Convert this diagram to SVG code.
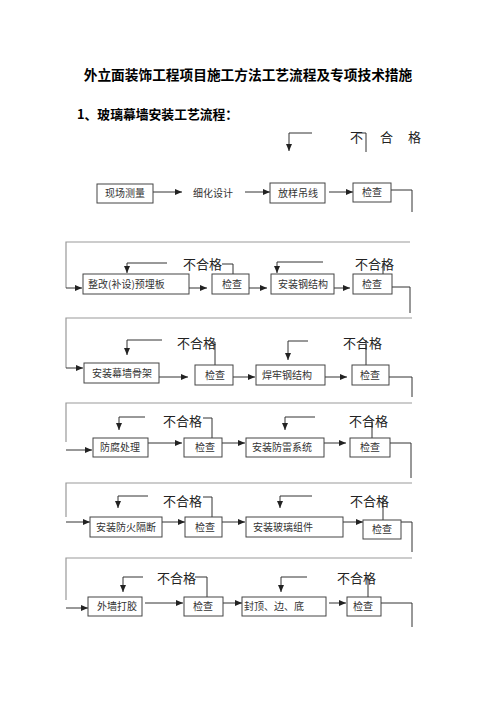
<svg xmlns="http://www.w3.org/2000/svg" width="496" height="702" viewBox="0 0 496 702">
<style>
.bg{fill:#fff}
.box{fill:#fff;stroke:#444;stroke-width:1}
.ln{fill:none;stroke:#333;stroke-width:1}
.ret{fill:none;stroke:#999;stroke-width:1.2}
.t{font-family:"Noto Sans CJK SC","Noto Sans CJK JP",sans-serif;font-size:10px;fill:#333}
.ng{font-family:"Noto Sans CJK SC","Noto Sans CJK JP",sans-serif;font-size:13px;fill:#222}
.h{font-family:"Noto Sans CJK SC","Noto Sans CJK JP",sans-serif;font-weight:bold;fill:#000}
</style>
<defs>
<marker id="ah" markerWidth="7" markerHeight="6" refX="7" refY="3" orient="auto" markerUnits="userSpaceOnUse"><path d="M0,0 L7,3 L0,6 z" fill="#222"/></marker>
</defs>
<rect class="bg" x="0" y="0" width="496" height="702"/>
<g id="titles">
<text class="h" x="248" y="80" font-size="13.7" text-anchor="middle">外立面装饰工程项目施工方法工艺流程及专项技术措施</text>
<text class="h" x="77" y="119" font-size="12.8">1、玻璃幕墙安装工艺流程：</text>
</g>
<g id="connectors">
<!-- row 1 -->
<path class="ln" d="M153,192 H182" marker-end="url(#ah)"/>
<path class="ln" d="M245,192 H270" marker-end="url(#ah)"/>
<path class="ln" d="M329,192 H353" marker-end="url(#ah)"/>
<path class="ln" d="M391,190 H412 V212"/>
<path class="ln" d="M312,133 H289 V151" marker-end="url(#ah)"/>
<path class="ln" d="M358,133 H366 V152"/>
<!-- row 2 -->
<path class="ret" d="M410,242 H66 V288"/>
<path class="ln" d="M66,288 H82" marker-end="url(#ah)"/>
<path class="ln" d="M189,288 H207" marker-end="url(#ah)"/>
<path class="ln" d="M249,288 H267" marker-end="url(#ah)"/>
<path class="ln" d="M334,288 H350" marker-end="url(#ah)"/>
<path class="ln" d="M392,287 H410 V313"/>
<path class="ln" d="M233,274 V264 H222"/>
<path class="ln" d="M167,263 H127 V273" marker-end="url(#ah)"/>
<path class="ln" d="M383,274 V263"/>
<path class="ln" d="M323,262 H277 V273" marker-end="url(#ah)"/>
<!-- row 3 -->
<path class="ret" d="M412,318 H66 V368"/>
<path class="ln" d="M66,368 H83" marker-end="url(#ah)"/>
<path class="ln" d="M159,377 H188" marker-end="url(#ah)"/>
<path class="ln" d="M233,377 H255" marker-end="url(#ah)"/>
<path class="ln" d="M325,377 H347" marker-end="url(#ah)"/>
<path class="ln" d="M389,377 H412 V397"/>
<path class="ln" d="M215,365 V342 H212"/>
<path class="ln" d="M162,340 H127 V355" marker-end="url(#ah)"/>
<path class="ln" d="M366,365 V340"/>
<path class="ln" d="M308,341 H288 V360" stroke-width="1.6" marker-end="url(#ah)"/>
<!-- row 4 -->
<path class="ret" d="M412,403 H66 V442"/>
<path class="ln" d="M66,450 H92" marker-end="url(#ah)"/>
<path class="ln" d="M148,443 H182" marker-end="url(#ah)"/>
<path class="ln" d="M222,443 H245" marker-end="url(#ah)"/>
<path class="ln" d="M324,443 H346" marker-end="url(#ah)"/>
<path class="ln" d="M390,443 H411 V478"/>
<path class="ln" d="M212,438 V418 H203"/>
<path class="ln" d="M145,417 H119 V430" marker-end="url(#ah)"/>
<path class="ln" d="M372,438 V420"/>
<path class="ln" d="M315,417 H285 V430" marker-end="url(#ah)"/>
<!-- row 5 -->
<path class="ret" d="M412,483 H66 V517"/>
<path class="ln" d="M66,522 H90" marker-end="url(#ah)"/>
<path class="ln" d="M162,522 H185" marker-end="url(#ah)"/>
<path class="ln" d="M222,522 H245" marker-end="url(#ah)"/>
<path class="ln" d="M343,522 H363" marker-end="url(#ah)"/>
<path class="ln" d="M401,522 H412 V552"/>
<path class="ln" d="M212,517 V497 H203"/>
<path class="ln" d="M148,496 H118 V508" marker-end="url(#ah)"/>
<path class="ln" d="M383,520 V498"/>
<path class="ln" d="M312,496 H280 V508" marker-end="url(#ah)"/>
<!-- row 6 -->
<path class="ret" d="M412,558 H66 V600"/>
<path class="ln" d="M66,608 H88" marker-end="url(#ah)"/>
<path class="ln" d="M145,603 H183" marker-end="url(#ah)"/>
<path class="ln" d="M223,603 H242" marker-end="url(#ah)"/>
<path class="ln" d="M329,603 H346" marker-end="url(#ah)"/>
<path class="ln" d="M381,603 H412 V627"/>
<path class="ln" d="M207,597 V577 H195"/>
<path class="ln" d="M143,577 H123 V592" marker-end="url(#ah)"/>
<path class="ln" d="M368,597 V575"/>
<path class="ln" d="M307,577 H281 V592" marker-end="url(#ah)"/>
</g>
<g id="labels">
<text class="ng" x="350" y="142">不</text>
<text class="ng" x="380" y="142">合</text>
<text class="ng" x="408" y="142">格</text>
<text class="ng" x="183" y="269">不合格</text>
<text class="ng" x="355" y="269">不合格</text>
<text class="ng" x="177" y="348">不合格</text>
<text class="ng" x="343" y="348">不合格</text>
<text class="ng" x="163" y="426">不合格</text>
<text class="ng" x="349" y="426">不合格</text>
<text class="ng" x="163" y="506">不合格</text>
<text class="ng" x="350" y="506">不合格</text>
<text class="ng" x="157" y="583">不合格</text>
<text class="ng" x="337" y="583">不合格</text>
</g>
<!-- row 1 nodes -->
<g id="n1"><rect class="box" x="97" y="184" width="56" height="19"/><text class="t" x="105" y="197">现场测量</text></g>
<g id="n2"><text class="t" x="193" y="197">细化设计</text></g>
<g id="n3"><rect class="box" x="270" y="183" width="55" height="20"/><text class="t" x="278" y="197">放样吊线</text></g>
<g id="n4"><rect class="box" x="353" y="183" width="38" height="19"/><text class="t" x="362" y="196">检查</text></g>
<!-- row 2 -->
<g id="n5"><rect class="box" x="83" y="274" width="106" height="20"/><text class="t" x="88" y="288">整改(补设)预埋板</text></g>
<g id="n6"><rect class="box" x="212" y="274" width="37" height="20"/><text class="t" x="222" y="288">检查</text></g>
<g id="n7"><rect class="box" x="271" y="274" width="63" height="20"/><text class="t" x="278" y="288">安装钢结构</text></g>
<g id="n8"><rect class="box" x="353" y="274" width="39" height="20" stroke-width="1.4"/><text class="t" x="362" y="288">检查</text></g>
<!-- row 3 -->
<g id="n9"><rect class="box" x="84" y="363" width="75" height="20"/><text class="t" x="92" y="377">安装幕墙骨架</text></g>
<g id="n10"><rect class="box" x="195" y="365" width="38" height="20"/><text class="t" x="205" y="379">检查</text></g>
<g id="n11"><rect class="box" x="256" y="365" width="69" height="20"/><text class="t" x="262" y="379">焊牢钢结构</text></g>
<g id="n12"><rect class="box" x="352" y="365" width="37" height="20"/><text class="t" x="360" y="379">检查</text></g>
<!-- row 4 -->
<g id="n13"><rect class="box" x="93" y="438" width="55" height="19"/><text class="t" x="100" y="451">防腐处理</text></g>
<g id="n14"><rect class="box" x="184" y="438" width="38" height="19"/><text class="t" x="195" y="451">检查</text></g>
<g id="n15"><rect class="box" x="246" y="438" width="78" height="19"/><text class="t" x="252" y="451">安装防雷系统</text></g>
<g id="n16"><rect class="box" x="350" y="438" width="40" height="19"/><text class="t" x="360" y="451">检查</text></g>
<!-- row 5 -->
<g id="n17"><rect class="box" x="90" y="517" width="72" height="20"/><text class="t" x="96" y="531">安装防火隔断</text></g>
<g id="n18"><rect class="box" x="185" y="517" width="37" height="20"/><text class="t" x="195" y="531">检查</text></g>
<g id="n19"><rect class="box" x="246" y="517" width="97" height="20"/><text class="t" x="253" y="531">安装玻璃组件</text></g>
<g id="n20"><rect class="box" x="363" y="520" width="38" height="19"/><text class="t" x="372" y="533">检查</text></g>
<!-- row 6 -->
<g id="n21"><rect class="box" x="88" y="597" width="54" height="19"/><text class="t" x="97" y="610">外墙打胶</text></g>
<g id="n22"><rect class="box" x="184" y="597" width="39" height="19"/><text class="t" x="193" y="610">检查</text></g>
<g id="n23"><rect class="box" x="242" y="597" width="84" height="19"/><text class="t" x="244" y="610">封顶、边、底</text></g>
<g id="n24"><rect class="box" x="347" y="597" width="34" height="19"/><text class="t" x="353" y="610">检查</text></g>
</svg>
